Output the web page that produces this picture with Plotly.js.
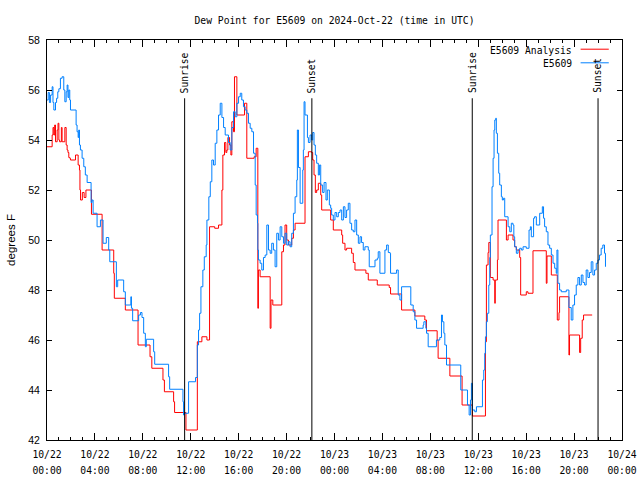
<!DOCTYPE html>
<html><head><meta charset="utf-8">
<script src="https://cdn.plot.ly/plotly-3.0.1.min.js"></script>
<style>html,body{margin:0;padding:0;background:#fff}#chart{width:640px;height:480px}</style>
</head><body><div id="chart"></div>
<script>
// hours since 2024-10-22 00:00 UTC
const analysisHours = [0.0,0.43,0.5,0.57,0.64,0.71,0.85,0.92,0.99,1.05,1.2,1.26,1.49,1.6,1.68,1.75,1.82,1.9,1.96,2.38,2.6,2.71,2.75,2.8,2.95,3.1,3.25,3.71,4.6,5.57,5.62,6.54,7.6,8.6,8.75,9.68,9.8,10.57,10.65,11.6,12.55,12.93,13.35,13.57,14.0,14.32,14.6,14.68,14.82,14.93,15.01,15.1,15.24,15.35,15.43,15.57,15.65,15.85,16.49,16.68,17.29,17.46,17.6,17.65,17.79,18.63,18.7,18.85,19.6,19.74,19.87,20.01,20.15,20.43,20.57,20.71,21.54,21.82,22.1,22.18,22.29,22.4,22.51,22.65,22.85,22.93,23.68,23.9,24.6,24.68,24.875,25.01,25.43,25.57,25.71,26.62,26.82,27.57,28.57,28.68,29.6,30.71,31.54,31.68,32.57,32.65,33.63,34.65,35.51,36.6,36.68,36.82,36.88,37.01,37.24,37.38,37.42,37.6,37.65,38.35,38.49,38.9,39.04,39.18,39.46,39.54,40.01,40.15,40.57,41.68,41.74,42.1,42.6,42.74,42.79,43.57,43.62,44.46,44.55,44.68,44.79,45.51];
const analysisValues = [53.73,54.2,54.5,54.2,54.6,53.93,54.4,54.67,54.0,53.93,54.5,53.93,54.5,53.8,53.6,53.5,53.3,53.27,53.2,53.4,53.0,52.8,52.0,51.6,51.9,51.7,52.0,51.03,49.6,48.67,47.67,47.2,45.8,45.33,44.87,44.4,43.93,43.53,43.1,42.4,45.93,46.13,46.0,50.53,50.47,50.6,52.0,53.4,53.9,53.5,53.6,54.1,53.8,53.4,54.73,54.33,56.53,55.0,55.47,53.27,53.33,53.67,47.27,48.8,48.53,46.47,47.6,47.4,49.53,49.8,50.6,50.0,49.8,50.07,50.4,50.67,53.33,53.53,53.5,53.2,52.6,51.9,52.0,52.27,51.8,51.2,50.8,50.4,50.2,49.87,49.6,49.67,49.47,49.1,48.8,48.67,48.4,48.2,48.1,47.84,47.2,46.96,46.8,46.37,46.0,45.27,44.56,43.4,42.96,45.93,49.0,49.5,49.9,48.5,48.4,47.47,48.4,49.2,50.8,50.0,50.2,50.0,49.73,49.6,49.3,47.8,47.93,47.87,49.57,48.27,49.36,48.6,46.8,47.1,47.73,45.4,46.2,45.5,46.07,46.8,47.0,47.0];

const obsHours = [0.0,0.1,0.2,0.3,0.43,0.5,0.57,0.71,0.8,0.9,0.99,1.12,1.26,1.4,1.49,1.6,1.68,1.75,1.82,1.9,1.96,2.43,2.51,2.6,2.65,2.71,2.79,2.93,3.07,3.2,3.35,3.68,3.76,3.85,4.18,4.46,4.68,4.95,5.15,5.24,5.79,5.9,6.4,6.54,7.0,7.05,7.15,7.65,7.8,7.93,8.07,8.21,8.29,8.9,8.99,10.15,10.24,11.35,11.4,11.46,11.82,12.4,12.55,12.65,12.74,12.85,13.01,13.13,13.29,13.35,13.51,13.63,13.76,13.9,14.04,14.18,14.32,14.46,14.6,14.74,14.875,15.15,15.29,15.43,15.57,15.71,15.85,15.99,16.13,16.26,16.4,16.54,16.68,16.82,16.96,17.1,17.24,17.38,17.46,17.57,17.6,17.65,17.79,17.93,18.07,18.21,18.35,18.49,18.63,18.76,18.9,19.04,19.18,19.32,19.46,19.6,19.74,19.87,20.01,20.15,20.29,20.43,20.57,20.71,20.85,20.9,20.99,21.13,21.35,21.4,21.46,21.54,21.74,21.82,21.96,22.1,22.18,22.29,22.4,22.51,22.65,22.74,22.85,23.01,23.13,23.29,23.4,23.57,23.68,23.76,23.9,24.04,24.18,24.32,24.46,24.6,24.74,24.875,25.01,25.15,25.29,25.43,25.57,25.71,25.85,25.99,26.13,26.26,26.4,26.54,26.82,26.9,27.38,27.57,27.65,27.79,28.21,28.35,28.49,28.63,28.68,29.18,29.32,29.46,29.6,30.37,30.57,30.71,30.85,31.4,31.46,31.625,31.68,31.82,32.51,32.79,32.93,33.01,33.13,33.21,33.35,34.54,35.1,35.24,35.35,35.43,35.51,35.71,35.85,36.35,36.46,36.54,36.6,36.68,36.76,36.88,36.96,37.01,37.15,37.24,37.32,37.38,37.46,37.51,37.6,37.71,37.79,37.93,38.01,38.1,38.21,38.49,38.63,38.76,38.9,38.97,39.04,39.18,39.32,39.46,39.6,39.74,40.01,40.24,40.35,40.43,40.62,40.7,40.85,41.13,41.35,41.45,41.54,41.68,41.82,41.96,42.1,42.24,42.38,42.51,42.57,42.65,42.79,42.93,43.35,43.57,43.76,43.9,44.04,44.18,44.32,44.46,44.6,44.74,44.88,45.01,45.15,45.29,45.43,45.57,45.71,45.85,45.99,46.12,46.26,46.4,46.54,46.62];
const obsValues = [55.6,55.9,55.5,55.8,56.13,55.5,55.2,55.5,55.67,55.93,56.05,56.47,56.53,56.0,55.53,55.93,56.2,55.7,56.0,55.6,55.2,54.6,54.33,54.1,54.4,53.8,53.6,53.27,52.93,52.6,52.3,51.5,51.6,51.07,50.53,50.8,49.87,50.1,49.6,49.13,48.13,48.4,47.93,47.4,47.73,47.27,46.77,47.0,47.1,46.9,46.27,45.73,46.03,45.53,45.03,44.53,44.03,43.53,43.0,43.07,44.33,44.5,45.8,46.4,47.07,48.13,48.8,49.33,49.8,50.8,51.73,52.33,53.2,53.0,53.87,54.4,55.0,55.47,54.9,54.5,54.2,53.9,53.6,54.5,55.13,54.93,55.47,55.73,55.87,55.6,55.33,55.2,55.07,54.67,54.47,54.33,53.47,52.2,51.0,50.67,49.6,49.2,49.07,48.8,49.3,49.4,50.6,49.6,49.47,49.87,49.6,48.93,50.27,50.0,50.53,50.13,49.87,50.27,49.8,49.93,49.73,50.27,51.07,51.73,52.4,54.4,52.9,51.47,52.8,53.6,55.53,55.0,54.1,53.9,54.2,54.0,54.3,53.8,53.4,53.07,52.6,53.0,52.2,51.9,52.3,51.6,52.0,51.4,51.27,51.0,50.8,51.1,50.93,51.1,51.2,50.8,51.33,50.9,51.2,51.47,50.67,50.4,50.33,50.8,50.2,49.87,50.13,49.9,49.6,49.73,49.6,48.93,49.2,49.27,49.53,48.67,49.6,49.8,49.5,49.47,48.67,48.8,47.8,47.6,48.13,47.4,47.13,46.8,46.47,46.6,46.73,46.47,46.27,45.73,46.0,46.1,47.0,46.73,46.27,45.8,45.0,44.0,43.4,43.0,43.6,44.27,43.2,43.13,43.33,44.4,44.8,45.47,46.13,46.73,47.07,48.2,49.3,50.2,52.13,53.27,54.4,54.8,54.87,54.27,53.47,52.67,52.2,51.73,51.6,51.67,50.93,50.53,50.33,50.67,50.6,50.13,49.73,49.47,49.6,49.67,49.6,49.73,49.67,50.4,50.53,50.13,50.87,50.93,50.6,51.07,51.33,50.87,50.53,50.33,49.8,49.67,49.4,49.07,48.87,48.67,49.6,48.27,48.0,47.93,48.0,47.3,46.8,47.4,47.8,48.2,48.5,48.2,48.6,48.3,48.2,48.8,48.5,48.7,49.13,48.6,48.8,49.07,49.2,49.4,49.67,49.8,49.47,48.93];

const eventHours = [11.49, 22.11, 35.5, 46.0];
const eventLabels = ['Sunrise', 'Sunset', 'Sunrise', 'Sunset'];

const tickHours = [0, 4, 8, 12, 16, 20, 24, 28, 32, 36, 40, 44, 48];
const tickDates = ['10/22','10/22','10/22','10/22','10/22','10/22','10/23','10/23','10/23','10/23','10/23','10/23','10/24'];
const tickTimes = ['00:00','04:00','08:00','12:00','16:00','20:00','00:00','04:00','08:00','12:00','16:00','20:00','00:00'];

const seriesNames = ['E5609 Analysis', 'E5609'];
const seriesColors = ['#ff0000', '#0080ff'];

const MONO = '"DejaVu Sans Mono", "Liberation Mono", monospace';
const SANS = '"Liberation Sans", Arial, sans-serif';
const sp = t => '<span style="font-size:9.7px">' + t + '</span>';
const tickText = tickDates.map((d, i) => sp(d) + '<br>' + sp(tickTimes[i]));

const traces = [
  {x: analysisHours, y: analysisValues, type: 'scatter', mode: 'lines',
   line: {shape: 'hv', color: seriesColors[0], width: 1}, name: seriesNames[0]},
  {x: obsHours, y: obsValues, type: 'scatter', mode: 'lines',
   line: {shape: 'hv', color: seriesColors[1], width: 1}, name: seriesNames[1]}
];

const yLineTop = 55.67;
const shapes = eventHours.map(h => ({type: 'line', xref: 'x', yref: 'y', x0: h, x1: h, y0: 42, y1: yLineTop,
  line: {color: '#000', width: 1}}));
const annotations = eventHours.map((h, i) => ({x: h, y: yLineTop, xref: 'x', yref: 'y', text: eventLabels[i],
  textangle: -90, showarrow: false, xanchor: 'center', yanchor: 'bottom', yshift: 3,
  font: {family: MONO, size: 9.7, color: '#000'}}));

// legend drawn manually (text left of line sample, as in the reference)
const legY = [0.975, 0.941];
seriesNames.forEach((n, i) => {
  annotations.push({xref: 'paper', yref: 'paper', x: 0.917, y: legY[i], text: n, showarrow: false,
    xanchor: 'right', yanchor: 'middle', font: {family: MONO, size: 9.7, color: '#000'}});
  shapes.push({type: 'line', xref: 'paper', yref: 'paper', x0: 0.928, x1: 0.977, y0: legY[i] + 0.002, y1: legY[i] + 0.002,
    line: {color: seriesColors[i], width: 1}});
});

const layout = {
  width: 640, height: 480,
  margin: {l: 47, r: 18, t: 40, b: 40, pad: 0},
  paper_bgcolor: '#fff', plot_bgcolor: '#fff',
  showlegend: false,
  title: {text: 'Dew Point for E5609 on 2024-Oct-22 (time in UTC)', x: 0.5, xref: 'paper', xanchor: 'center',
    y: 0.958, yref: 'container', yanchor: 'middle', font: {family: MONO, size: 9.7, color: '#000'}},
  xaxis: {range: [0, 48], tickmode: 'array', tickvals: tickHours, ticktext: tickText,
    ticks: 'inside', ticklen: 7, tickcolor: '#000', tickwidth: 1,
    minor: {dtick: 1, tick0: 0, ticks: 'inside', ticklen: 3, tickcolor: '#000', showgrid: false},
    showline: true, linecolor: '#000', linewidth: 1, mirror: 'allticks', showgrid: false, zeroline: false,
    tickfont: {family: MONO, size: 12.3, color: '#000'}, ticklabelstandoff: 2, tickangle: 0, automargin: false},
  yaxis: {range: [42, 58], dtick: 2, tick0: 42, ticks: 'inside', ticklen: 5, tickcolor: '#000', tickwidth: 1,
    showline: true, linecolor: '#000', linewidth: 1, mirror: 'allticks', showgrid: false, zeroline: false,
    tickfont: {family: SANS, size: 10.5, color: '#000'}, ticklabelstandoff: 4, automargin: false,
    title: {text: 'degrees F', font: {family: SANS, size: 11.5, color: '#000'}, standoff: 10}},
  shapes: shapes,
  annotations: annotations
};

Plotly.newPlot('chart', traces, layout, {displayModeBar: false, staticPlot: true});
</script>
</body></html>
